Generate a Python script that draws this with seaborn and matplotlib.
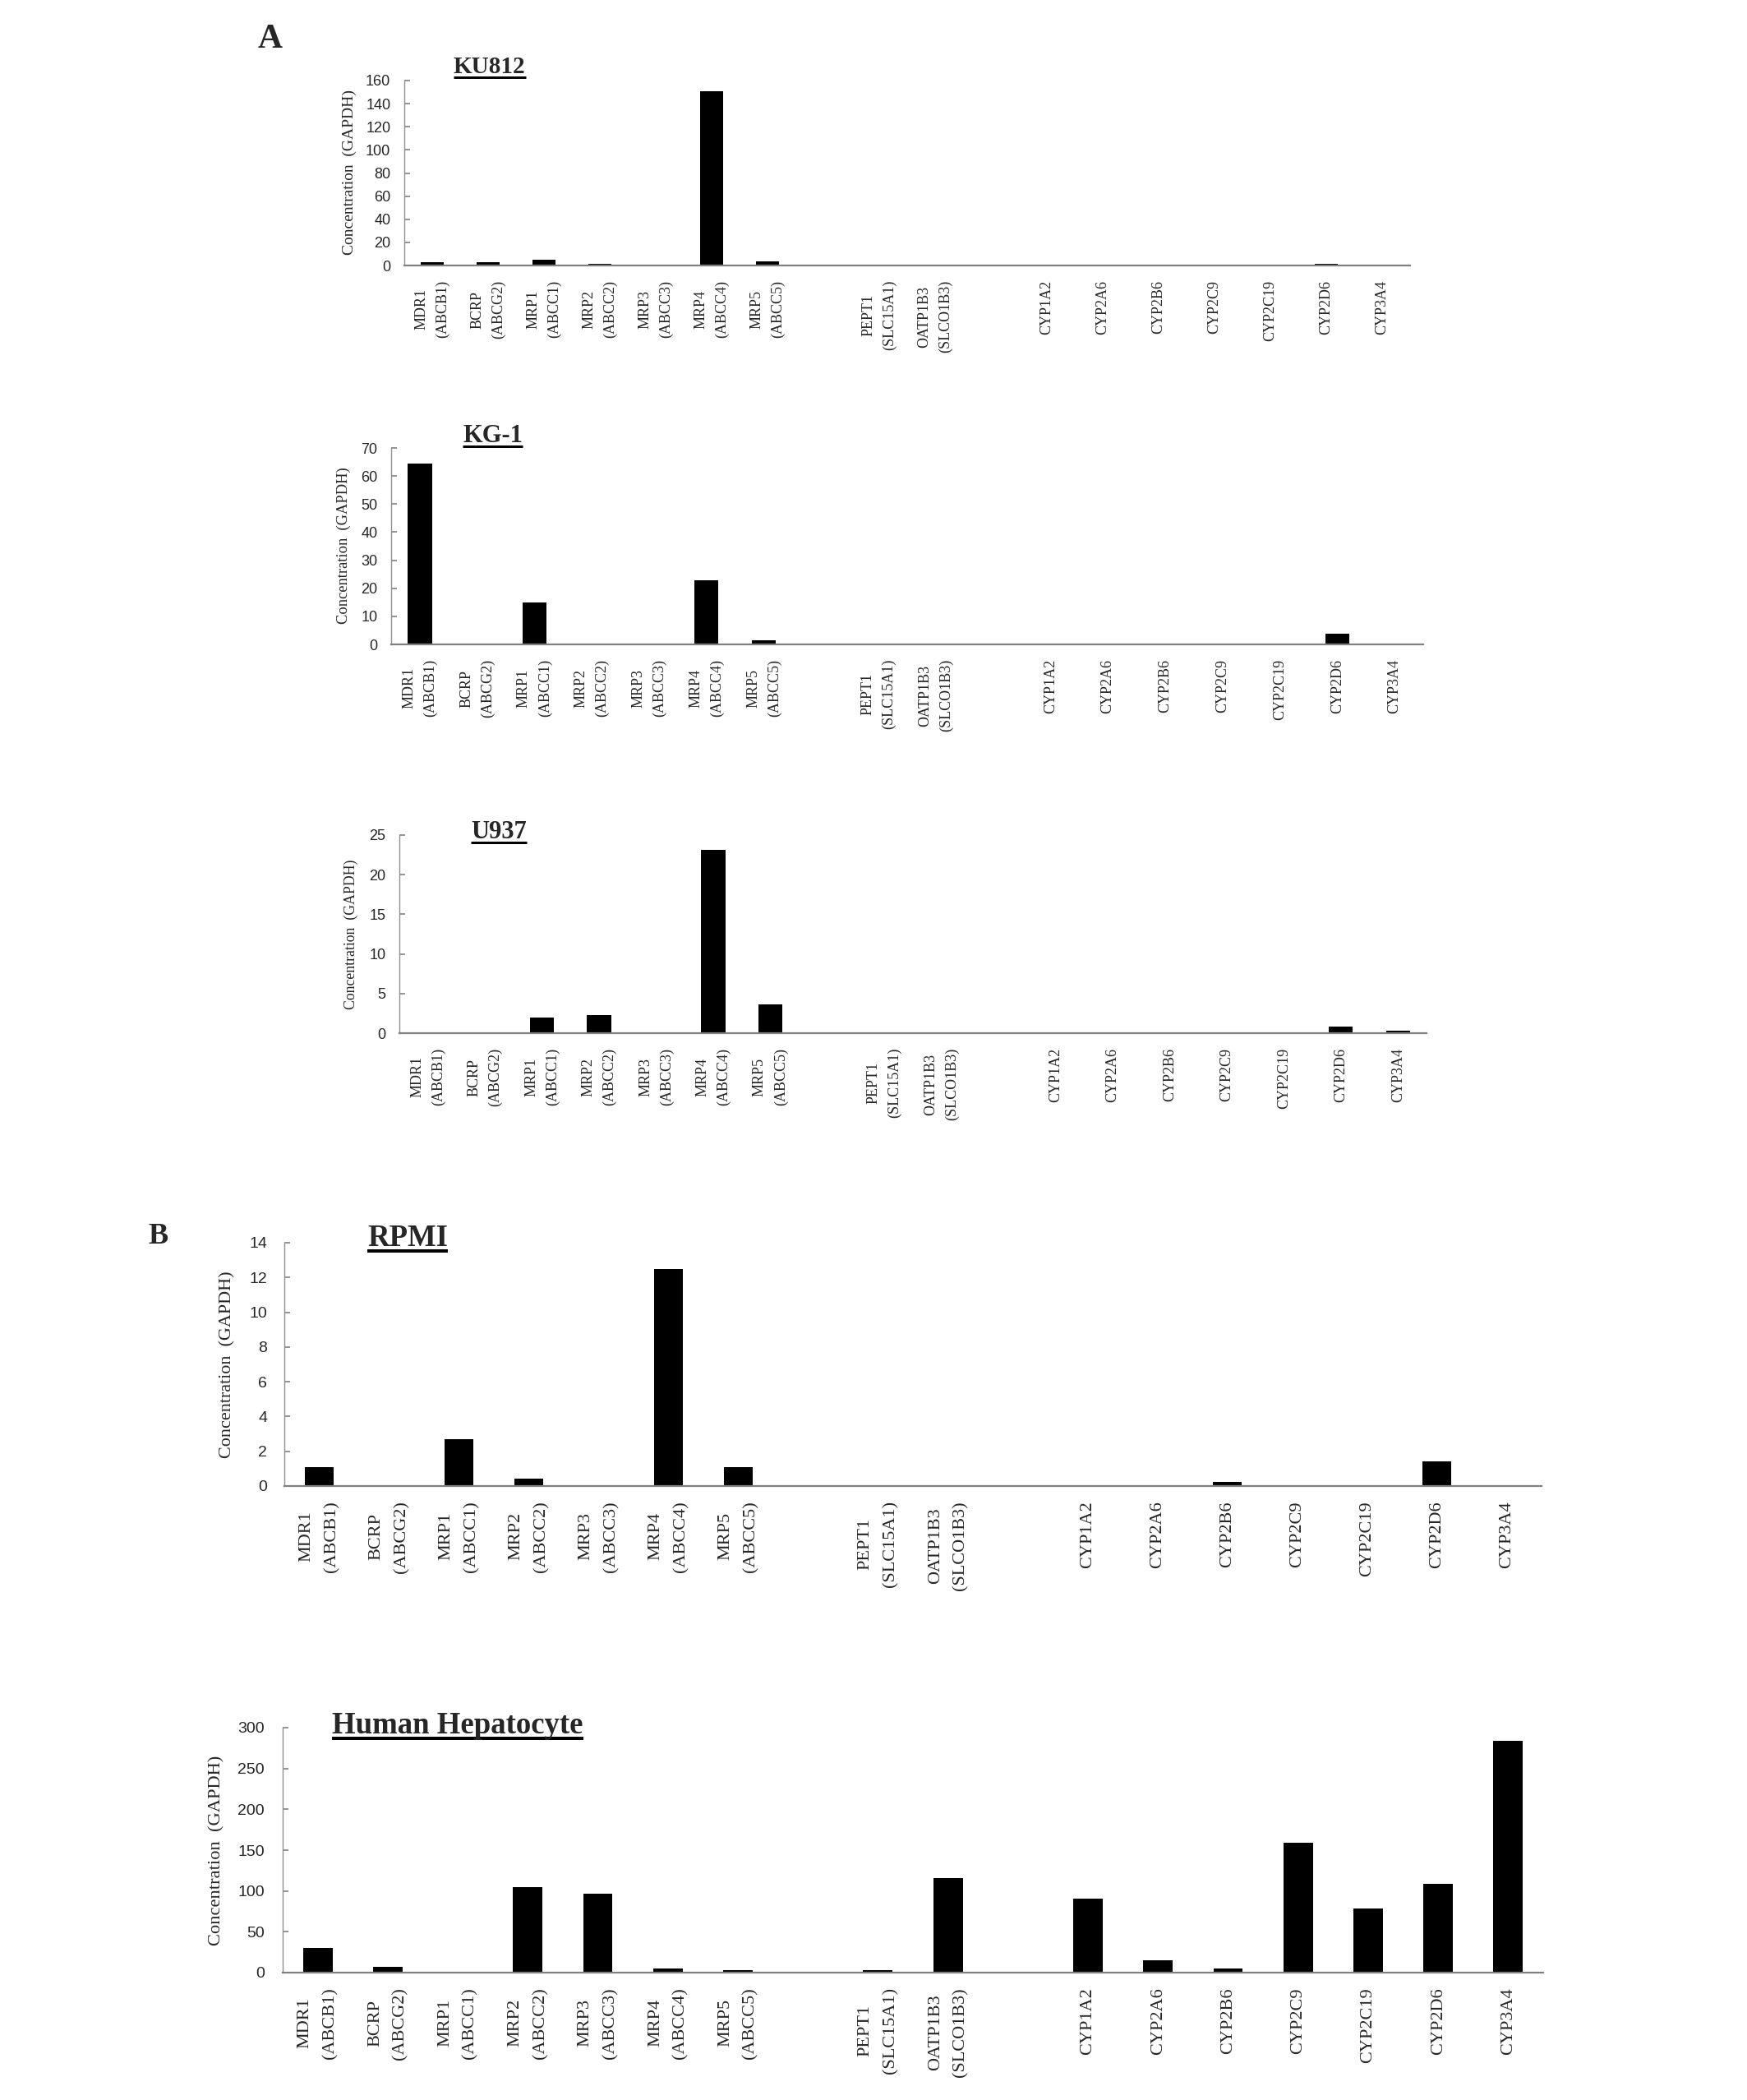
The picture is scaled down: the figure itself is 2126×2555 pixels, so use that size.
import numpy as np
import pandas as pd
import matplotlib
matplotlib.use("Agg")
import matplotlib.pyplot as plt
from matplotlib.lines import Line2D
import seaborn as sns

# ---------------- data ----------------
genes = ["MDR1\n(ABCB1)", "BCRP\n(ABCG2)", "MRP1\n(ABCC1)", "MRP2\n(ABCC2)",
         "MRP3\n(ABCC3)", "MRP4\n(ABCC4)", "MRP5\n(ABCC5)",
         "PEPT1\n(SLC15A1)", "OATP1B3\n(SLCO1B3)",
         "CYP1A2", "CYP2A6", "CYP2B6", "CYP2C9", "CYP2C19", "CYP2D6", "CYP3A4"]
gap_after = ["MRP5\n(ABCC5)", "OATP1B3\n(SLCO1B3)"]

ku812 = [2.8, 2.6, 5.2, 1.7, 0, 151, 3.6, 0, 0, 0, 0, 0, 0, 0, 1.7, 0]
kg1 = [64.3, 0, 15.0, 0, 0, 22.9, 1.5, 0, 0, 0, 0, 0, 0, 0, 3.9, 0]
u937 = [0, 0, 1.97, 2.28, 0, 23.1, 3.6, 0, 0, 0, 0, 0, 0, 0, 0.83, 0.31]
rpmi = [1.07, 0, 2.71, 0.44, 0, 12.49, 1.07, 0, 0, 0, 0, 0.24, 0, 0, 1.40, 0]
hepatocyte = [29.9, 6.6, 0, 104.2, 96.9, 4.6, 3.0, 3.0, 115.8, 90.9, 14.9, 4.6,
              159.3, 78.7, 108.5, 283.4]

titles = ["KU812", "KG-1", "U937", "RPMI", "Human Hepatocyte"]
ylims = [160, 70, 25, 14, 300]
ysteps = [20, 10, 5, 2, 50]
ylabel_text = "Concentration  (GAPDH)"

# ---------------- layout (pixels) ----------------
W, H = 2126, 2555
sns.set_style("white")
plt.rcParams["font.family"] = ["Liberation Serif", "DejaVu Serif"]

fig = plt.figure(figsize=(W / 100, H / 100), dpi=100)

def px_axes(left, right, top, bottom):
    return [left / W, 1 - bottom / H, (right - left) / W, (bottom - top) / H]

panels = [
    dict(vals=ku812, box=(492, 1716, 98, 323), lab=13, ls=1.65, ytk=13, ytpad=12,
         ylab=14, ylab_xy=(425, 210), title_xy=(552, 89), tsize=21, ul=(3, 3)),
    dict(vals=kg1, box=(476, 1732, 545, 784), lab=13, ls=1.65, ytk=13, ytpad=12,
         ylab=13.3, ylab_xy=(418, 664), title_xy=(563, 538), tsize=22, ul=(3, 3)),
    dict(vals=u937, box=(486, 1736, 1016, 1257), lab=13, ls=1.65, ytk=13, ytpad=12,
         ylab=12.8, ylab_xy=(427, 1137), title_xy=(573, 1020), tsize=22, ul=(3, 3)),
    dict(vals=rpmi, box=(346, 1876, 1512, 1808), lab=16, ls=1.8, ytk=14, ytpad=15,
         ylab=15.9, ylab_xy=(277, 1660), title_xy=(447, 1516), tsize=26.5, ul=(4, 4)),
    dict(vals=hepatocyte, box=(344, 1878, 2102, 2400), lab=16, ls=1.8, ytk=14, ytpad=16,
         ylab=16.2, ylab_xy=(264, 2251), title_xy=(404, 2109), tsize=26.5, ul=(4, 4)),
]

order = []
for g in genes:
    order.append(g)
    if g == gap_after[0]:
        order.append("gap1")
    if g == gap_after[1]:
        order.append("gap2")
ticklabels = ["" if o.startswith("gap") else o for o in order]

title_texts = []
for p, title, ymax, step in zip(panels, titles, ylims, ysteps):
    ax = fig.add_axes(px_axes(*p["box"]))
    df = pd.DataFrame({"gene": genes, "value": p["vals"]})
    sns.barplot(data=df, x="gene", y="value", order=order, color="black",
                width=0.42, saturation=1, linewidth=0, errorbar=None, ax=ax)
    ax.set_xlim(-0.5, len(order) - 0.5)
    ax.set_ylim(0, ymax)
    ax.set_yticks(np.arange(0, ymax + step / 2, step))
    ax.set_xticks(range(len(order)))
    ax.set_xticklabels(ticklabels, rotation=90, ha="center", va="top",
                       fontsize=p["lab"], family="Liberation Serif",
                       linespacing=p["ls"])
    ax.set_xticks(np.arange(0.5, len(order) - 0.5, 1.0), minor=True)
    for lbl in ax.get_yticklabels():
        lbl.set_family("Liberation Sans")
        lbl.set_fontsize(p["ytk"])
    ax.set_xlabel("")
    ax.set_ylabel("")
    ax.tick_params(axis="x", which="major", length=0, pad=13)
    ax.tick_params(axis="x", which="minor", direction="in", length=5,
                   width=1.2, color="#808080")
    ax.tick_params(axis="y", which="major", direction="in", length=5,
                   width=1.2, color="#808080", pad=p["ytpad"], left=True)
    for s in ["top", "right"]:
        ax.spines[s].set_visible(False)
    ax.spines["bottom"].set_color("#808080")
    ax.spines["bottom"].set_linewidth(1.6)
    ax.spines["left"].set_color("#909090")
    ax.spines["left"].set_linewidth(1.0)
    ax.grid(False)

    fig.text(p["ylab_xy"][0] / W, 1 - p["ylab_xy"][1] / H, ylabel_text,
             rotation=90, ha="center", va="center", fontsize=p["ylab"],
             family="Liberation Serif")
    t = fig.text(p["title_xy"][0] / W, 1 - p["title_xy"][1] / H, title,
                 ha="left", va="baseline", fontsize=p["tsize"],
                 fontweight="bold", family="Liberation Serif")
    title_texts.append((t, p["title_xy"][1], p["ul"]))

fig.text(314 / W, 1 - 58 / H, "A", ha="left", va="baseline", fontsize=30,
         fontweight="bold", family="Liberation Serif")
fig.text(180 / W, 1 - 1513 / H, "B", ha="left", va="baseline", fontsize=26,
         fontweight="bold", family="Liberation Serif")

# underlines for the panel titles
fig.canvas.draw()
renderer = fig.canvas.get_renderer()
for t, base, (off, thick) in title_texts:
    bb = t.get_window_extent(renderer)
    y = 1 - (base + off + thick / 2) / H
    fig.add_artist(Line2D([bb.x0 / W, bb.x1 / W], [y, y],
                          transform=fig.transFigure, color="black",
                          linewidth=thick * 0.72, solid_capstyle="butt"))

fig.savefig("out.png", dpi=100, facecolor="white")
